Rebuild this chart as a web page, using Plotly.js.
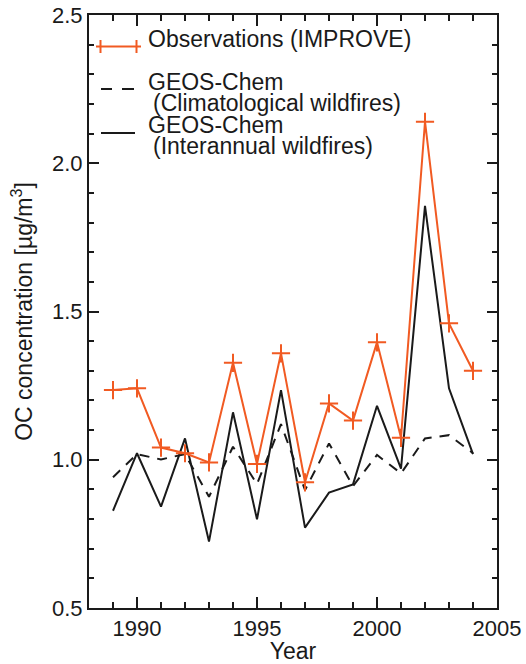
<!DOCTYPE html>
<html>
<head>
<meta charset="utf-8">
<script src="https://cdn.plot.ly/plotly-3.0.1.min.js"></script>
<style>html,body{margin:0;padding:0;background:#fff;}#chart{width:526px;height:664px;}</style>
</head>
<body>
<div id="chart"></div>
<script>
const years = [1989,1990,1991,1992,1993,1994,1995,1996,1997,1998,1999,2000,2001,2002,2003,2004];
const observations = [1.235,1.241,1.041,1.022,0.991,1.327,0.986,1.359,0.924,1.190,1.132,1.396,1.074,2.140,1.460,1.300];
const climWildfires = [0.941,1.019,1.001,1.019,0.875,1.044,0.918,1.120,0.898,1.055,0.911,1.016,0.954,1.072,1.083,1.022];
const interWildfires = [0.828,1.022,0.842,1.072,0.724,1.160,0.799,1.235,0.771,0.889,0.917,1.182,0.970,1.856,1.241,1.019];
const xTicks = [1990,1995,2000,2005];
const yTicks = [0.5,1.0,1.5,2.0,2.5];
const yTickText = ['0.5','1.0','1.5','2.0','2.5'];
const legendLabels = ['Observations (IMPROVE)','GEOS-Chem','(Climatological wildfires)','GEOS-Chem','(Interannual wildfires)'];

const orange = '#f15a22';
const ink = '#1a1a1a';
const FONT = 'Liberation Sans, Arial, Helvetica, sans-serif';

const traces = [
  {x: years, y: interWildfires, type:'scatter', mode:'lines', line:{color:ink, width:2}, showlegend:false},
  {x: years, y: climWildfires, type:'scatter', mode:'lines', line:{color:ink, width:2, dash:'10px,8px'}, showlegend:false},
  {x: years, y: observations, type:'scatter', mode:'lines+markers', line:{color:orange, width:2},
   marker:{symbol:'cross-thin', size:13, color:orange, line:{color:orange, width:2}}, showlegend:false}
];

// legend drawn in paper coordinates (plot area 89..497 px wide, 15..608 px tall)
const L = 89, R = 497, T = 15, B = 608;
const px = v => (v - L) / (R - L);
const py = v => (B - v) / (B - T);

const shapes = [
  {type:'line', xref:'paper', yref:'paper', x0:px(96), x1:px(141), y0:py(46.5), y1:py(46.5), line:{color:orange, width:2}},
  {type:'line', xref:'paper', yref:'paper', x0:px(100.5), x1:px(100.5), y0:py(40), y1:py(53), line:{color:orange, width:2}},
  {type:'line', xref:'paper', yref:'paper', x0:px(136.5), x1:px(136.5), y0:py(40), y1:py(53), line:{color:orange, width:2}},
  {type:'line', xref:'paper', yref:'paper', x0:px(101), x1:px(112), y0:py(89), y1:py(89), line:{color:ink, width:2}},
  {type:'line', xref:'paper', yref:'paper', x0:px(122), x1:px(134), y0:py(89), y1:py(89), line:{color:ink, width:2}},
  {type:'line', xref:'paper', yref:'paper', x0:px(101), x1:px(135), y0:py(133), y1:py(133), line:{color:ink, width:2}}
];

const legendPos = [[146,39],[146,82],[151,103],[146,125],[151,146]];
const annotations = legendLabels.map((t,i) => ({
  text:t, xref:'paper', yref:'paper', x:px(legendPos[i][0]), y:py(legendPos[i][1]),
  xanchor:'left', yanchor:'middle', showarrow:false, font:{family:FONT, size:23, color:ink}
}));

const layout = {
  width:526, height:664,
  margin:{l:89, r:29, t:15, b:56},
  paper_bgcolor:'#fff', plot_bgcolor:'#fff',
  showlegend:false,
  font:{family:FONT, size:22, color:ink},
  xaxis:{
    range:[1988,2005], tickvals:xTicks, ticktext:xTicks.map(String),
    ticks:'inside', ticklen:11, tickwidth:2, tickcolor:ink,
    minor:{dtick:1, ticks:'inside', ticklen:6, tickwidth:2, tickcolor:ink, showgrid:false},
    showline:true, linecolor:ink, linewidth:2, mirror:'allticks',
    showgrid:false, zeroline:false,
    tickfont:{family:FONT, size:22, color:ink},
    title:{text:'Year', font:{family:FONT, size:23, color:ink}, standoff:5}
  },
  yaxis:{
    range:[0.5,2.5], tickvals:yTicks, ticktext:yTickText,
    ticks:'inside', ticklen:10, tickwidth:2, tickcolor:ink,
    minor:{dtick:0.1, ticks:'inside', ticklen:5, tickwidth:2, tickcolor:ink, showgrid:false},
    showline:true, linecolor:ink, linewidth:2, mirror:'allticks',
    showgrid:false, zeroline:false,
    tickfont:{family:FONT, size:22, color:ink},
    title:{text:'OC concentration [µg/m<sup>3</sup>]', font:{family:FONT, size:23, color:ink}, standoff:13}
  },
  shapes:shapes,
  annotations:annotations
};

Plotly.newPlot('chart', traces, layout, {displayModeBar:false, staticPlot:true});
</script>
</body>
</html>
